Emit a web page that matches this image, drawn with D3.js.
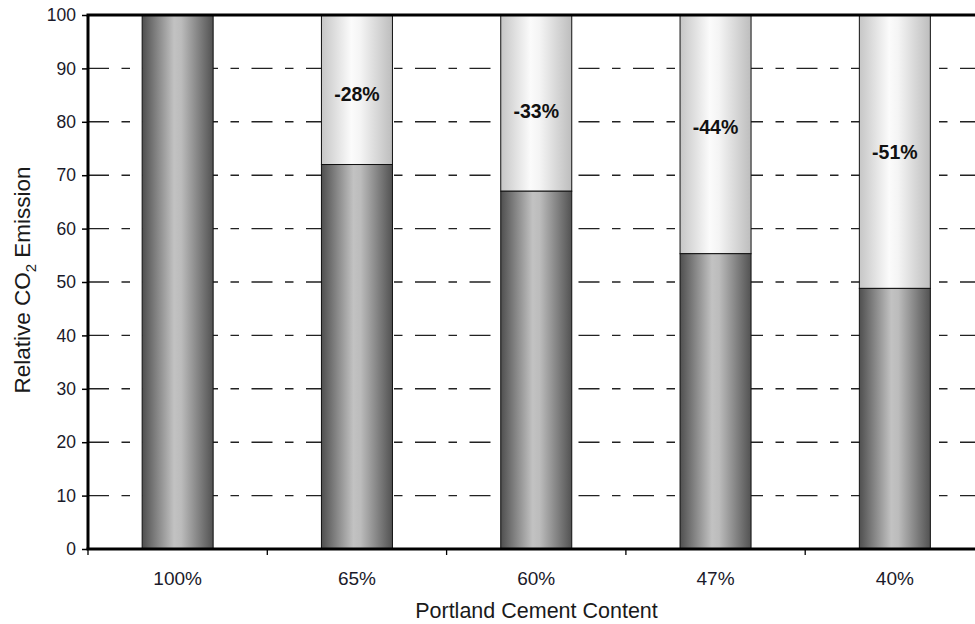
<!DOCTYPE html>
<html>
<head>
<meta charset="utf-8">
<script src="https://cdn.jsdelivr.net/npm/d3@7"></script>
<style>
  html, body { margin: 0; padding: 0; background: #fff; }
  svg { display: block; font-family: Arial, "Liberation Sans", sans-serif; }
</style>
</head>
<body>
<svg id="chart" width="975" height="624"></svg>
<script>
// ---- data ----
const categories = ["100%", "65%", "60%", "47%", "40%"];
const emission = [100, 72, 67, 55.3, 48.8];
const reductionLabels = ["", "-28%", "-33%", "-44%", "-51%"];
const labelLevel = [null, 85.3, 82.0, 79.0, 74.3];
const yTicks = [0, 10, 20, 30, 40, 50, 60, 70, 80, 90, 100];

// ---- layout ----
const plotLeft = 88, plotTop = 15, plotBottom = 549, catStep = 179.3;
const plotRight = plotLeft + catStep * categories.length;

const svg = d3.select("#chart");

const x = d3.scaleBand().domain(categories).range([plotLeft, plotRight]).padding(0);
const y = d3.scaleLinear().domain([0, 100]).range([plotBottom, plotTop]);
const barW = x.bandwidth() * 0.396;

// gradients
const defs = svg.append("defs");
const gDark = defs.append("linearGradient").attr("id", "gDark").attr("x1", "0%").attr("x2", "100%");
[["0%", "#4f4f4f"], ["45%", "#c2c2c2"], ["55%", "#bcbcbc"], ["100%", "#525252"]]
  .forEach(([o, c]) => gDark.append("stop").attr("offset", o).attr("stop-color", c));
const gLight = defs.append("linearGradient").attr("id", "gLight").attr("x1", "0%").attr("x2", "100%");
[["0%", "#c6c6c6"], ["42%", "#fbfbfb"], ["55%", "#f4f4f4"], ["100%", "#bdbdbd"]]
  .forEach(([o, c]) => gLight.append("stop").attr("offset", o).attr("stop-color", c));

// gridlines
svg.append("g")
  .selectAll("line")
  .data(yTicks.filter(d => d > 0 && d < 100))
  .join("line")
  .attr("x1", plotLeft).attr("x2", plotRight)
  .attr("y1", d => y(d)).attr("y2", d => y(d))
  .attr("stroke", "#222")
  .attr("stroke-width", 1.4)
  .attr("stroke-dasharray", "21,12.5,8.5,12.5");

// bars
const bars = svg.append("g");
categories.forEach((c, i) => {
  const bx = x(c) + (x.bandwidth() - barW) / 2;
  if (emission[i] < 100) {
    bars.append("rect")
      .attr("x", bx).attr("y", y(100))
      .attr("width", barW).attr("height", y(emission[i]) - y(100))
      .attr("fill", "url(#gLight)")
      .attr("stroke", "#111").attr("stroke-width", 1);
  }
  bars.append("rect")
    .attr("x", bx).attr("y", y(emission[i]))
    .attr("width", barW).attr("height", y(0) - y(emission[i]))
    .attr("fill", "url(#gDark)")
    .attr("stroke", "#111").attr("stroke-width", 1);
  if (reductionLabels[i]) {
    bars.append("text")
      .attr("x", x(c) + x.bandwidth() / 2)
      .attr("y", y(labelLevel[i]))
      .attr("dy", "0.36em")
      .attr("text-anchor", "middle")
      .attr("font-size", 19.5)
      .attr("font-weight", "bold")
      .attr("fill", "#111")
      .text(reductionLabels[i]);
  }
});

// y axis
const yAxis = svg.append("g")
  .attr("transform", `translate(${plotLeft},0)`)
  .call(d3.axisLeft(y).tickValues(yTicks).tickSize(6).tickPadding(6));
yAxis.select(".domain").remove();
yAxis.selectAll(".tick line").attr("stroke", "#000").attr("stroke-width", 1.5);
yAxis.selectAll(".tick text").attr("font-size", 17.5).attr("fill", "#1a1a2a")
  .attr("font-family", "Arial, 'Liberation Sans', sans-serif");

// x axis (ticks at category boundaries)
const boundaries = d3.range(categories.length + 1).map(i => plotLeft + i * catStep);
svg.append("g").selectAll("line").data(boundaries).join("line")
  .attr("x1", d => d).attr("x2", d => d)
  .attr("y1", plotBottom).attr("y2", plotBottom + 6)
  .attr("stroke", "#000").attr("stroke-width", 1.3);

svg.append("g").selectAll("text").data(categories).join("text")
  .attr("x", d => x(d) + x.bandwidth() / 2)
  .attr("y", 585)
  .attr("text-anchor", "middle")
  .attr("font-size", 19)
  .attr("fill", "#1a1a2a")
  .text(d => d);

// frame lines
svg.append("line").attr("x1", plotLeft - 1.5).attr("x2", plotRight).attr("y1", plotTop).attr("y2", plotTop)
  .attr("stroke", "#000").attr("stroke-width", 3);
svg.append("line").attr("x1", plotLeft - 1.5).attr("x2", plotRight).attr("y1", plotBottom).attr("y2", plotBottom)
  .attr("stroke", "#000").attr("stroke-width", 3);
svg.append("line").attr("x1", plotLeft).attr("x2", plotLeft).attr("y1", plotTop).attr("y2", plotBottom)
  .attr("stroke", "#000").attr("stroke-width", 3);

// axis titles
svg.append("text")
  .attr("x", 536.5).attr("y", 617.5)
  .attr("text-anchor", "middle")
  .attr("font-size", 21.5)
  .attr("fill", "#1a1a1a")
  .text("Portland Cement Content");

const yt = svg.append("text")
  .attr("transform", `translate(30,280) rotate(-90)`)
  .attr("text-anchor", "middle")
  .attr("font-size", 22.5)
  .attr("fill", "#1a1a1a");
yt.append("tspan").text("Relative CO");
yt.append("tspan").attr("font-size", 15).attr("dy", 6).text("2");
yt.append("tspan").attr("dy", -6).text(" Emission");
</script>
</body>
</html>
